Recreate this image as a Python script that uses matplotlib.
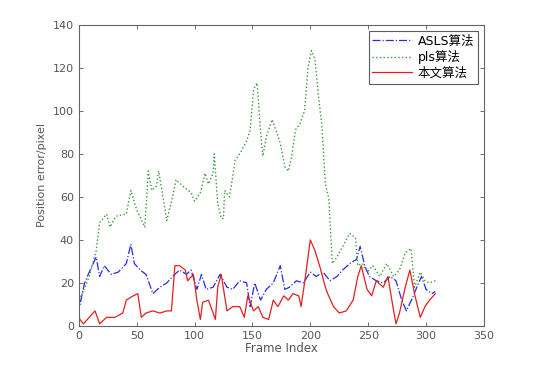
import matplotlib
matplotlib.use("Agg")
import matplotlib.pyplot as plt

plt.rcParams['font.family'] = ['DejaVu Sans', 'Noto Sans CJK SC']

# ASLS algorithm (blue dash-dot)
asls_x = [0, 1, 5, 9, 15, 18, 22, 28, 34, 41, 45, 48, 53, 58, 64, 70, 76, 81, 87, 93, 97, 102,
          106, 110, 116, 122, 128, 133, 139, 145, 148, 152, 157, 162, 168, 174, 178, 182, 188,
          194, 200, 205, 211, 217, 223, 228, 234, 240, 243, 247, 251, 257, 263, 269, 274, 279,
          283, 289, 292, 296, 300, 305, 308]
asls_y = [15, 10, 20, 25, 32, 23, 28, 24, 25, 29, 38, 29, 26, 24, 15, 18, 20, 23, 26, 24, 26, 17,
          24, 17, 18, 24, 18, 17, 21, 20, 9, 20, 12, 17, 20, 28, 17, 18, 21,
          20, 25, 23, 25, 21, 23, 26, 29, 31, 37, 28, 23, 21, 20, 23, 21, 12,
          7, 14, 18, 23, 17, 15, 16]

# pls algorithm (green dotted)
pls_x = [0, 3, 9, 15, 18, 24, 27, 32, 41, 45, 50, 57, 60, 63, 67, 69, 73, 76, 81, 84, 90, 97,
         100, 105, 109, 112, 116, 117, 120, 123, 125, 126, 130, 132, 135, 139, 145, 148, 151,
         154, 157, 159, 162, 167, 169, 174, 178, 181, 184, 187, 191, 195, 198, 201, 204, 207,
         210, 213, 216, 219, 223, 228, 234, 239, 241, 245, 249, 254, 260, 266, 272, 277, 282,
         287, 290, 295, 299, 303, 308]
pls_y = [12, 15, 23, 35, 48, 52, 46, 51, 52, 63, 54, 46, 72, 63, 65, 72, 59, 49, 60, 68, 65, 62,
         58, 62, 71, 66, 71, 80, 57, 50, 50, 63, 60, 66, 77, 80, 86, 91, 110,
         113, 90, 79, 88, 96, 93, 85, 74, 72, 79, 91, 94, 100, 120, 128, 124, 107,
         93, 66, 59, 29, 32, 37, 43, 41, 28, 29, 25, 28, 23, 29, 23, 26, 34,
         36, 18, 25, 21, 20, 21]

# proposed algorithm (red solid)
ours_x = [0, 1, 4, 9, 14, 18, 24, 31, 38, 41, 47, 51, 54, 58, 64, 70, 76, 80, 83, 87, 92, 94,
          99, 102, 105, 107, 112, 118, 120, 123, 128, 133, 139, 143, 146, 151, 155, 159, 164,
          168, 172, 177, 181, 185, 190, 192, 195, 200, 204, 208, 213, 215, 220, 225, 231, 237,
          241, 244, 249, 253, 257, 263, 267, 272, 274, 277, 282, 286, 290, 295, 299, 303, 308]
ours_y = [5, 3, 1, 4, 7, 1, 4, 4, 6, 12, 14, 15, 4, 6, 7, 6, 7, 7, 28, 28, 26, 21,
          24, 12, 3, 11, 12, 3, 18, 24, 7, 9, 9, 4, 14, 7, 9, 4, 3,
          12, 9, 14, 12, 15, 14, 9, 20, 40, 35, 28, 18, 15, 9, 6, 7, 12,
          23, 28, 17, 14, 21, 18, 23, 7, 1, 6, 18, 26, 15, 4, 9, 12, 15]

fig = plt.figure(figsize=(5.55, 3.65), dpi=100)
ax = fig.add_axes([0.142, 0.107, 0.730, 0.825])

ax.plot(asls_x, asls_y, color='#2a2ae0', linestyle='-.', linewidth=0.9, label='ASLS算法')
ax.plot(pls_x, pls_y, color='#3a9a3a', linestyle=':', linewidth=1.0, label='pls算法')
ax.plot(ours_x, ours_y, color='#e02020', linestyle='-', linewidth=0.9, label='本文算法')

ax.set_xlim(0, 350)
ax.set_ylim(0, 140)
ax.set_xticks(range(0, 351, 50))
ax.set_yticks(range(0, 141, 20))
ax.tick_params(direction='in', top=True, right=True, labelsize=8, colors='#555555',
               length=3, width=0.6)
for s in ax.spines.values():
    s.set_color('#666666')
    s.set_linewidth(0.8)

ax.set_xlabel('Frame Index', fontsize=8.5, color='#555555', labelpad=1)
ax.set_ylabel('Position error/pixel', fontsize=8, color='#555555', labelpad=4)

leg = ax.legend(loc='upper right', fontsize=9, frameon=True, fancybox=False,
                borderpad=0.3, labelspacing=0.2, handlelength=3.2, handletextpad=0.4,
                borderaxespad=0.5)
leg.get_frame().set_edgecolor('#333333')
leg.get_frame().set_linewidth(0.8)

fig.savefig('out.png', dpi=100)
